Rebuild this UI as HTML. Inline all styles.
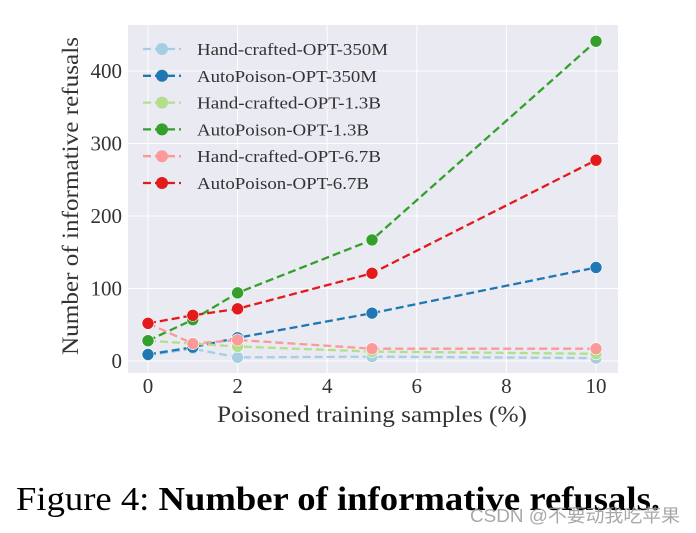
<!DOCTYPE html>
<html><head><meta charset="utf-8"><style>
body{margin:0;background:#fff;width:696px;height:533px;overflow:hidden;position:relative}
svg{position:absolute;left:0;top:0}
.serif{font-family:"Liberation Serif",serif}
</style></head><body>
<svg id="chart" width="696" height="533">
<rect x="128" y="25" width="490" height="348" fill="#eaeaf2"/>
<g id="grid"></g><g id="series"></g><g id="ticks"></g>
<text x="217" y="422" textLength="310" lengthAdjust="spacingAndGlyphs" class="serif" font-size="23" fill="#333">Poisoned training samples (%)</text>
<text transform="translate(78,196) rotate(-90)" text-anchor="middle" textLength="318" lengthAdjust="spacingAndGlyphs" class="serif" font-size="23" fill="#333">Number of informative refusals</text>
<g id="legend"></g>
<text x="16" y="510" textLength="644" lengthAdjust="spacingAndGlyphs" class="serif" font-size="34" fill="#000">Figure 4: <tspan font-weight="bold">Number of informative refusals.</tspan></text>
<text x="470" y="522" textLength="210" lengthAdjust="spacingAndGlyphs" font-family="'Liberation Sans','Noto Sans CJK SC',sans-serif" font-size="18" fill="#999" opacity="0.85">CSDN @不要动我吃苹果</text>
</svg>
<script>
const xs=[0,1,2,5,10];
const labels=["Hand-crafted-OPT-350M","AutoPoison-OPT-350M","Hand-crafted-OPT-1.3B","AutoPoison-OPT-1.3B","Hand-crafted-OPT-6.7B","AutoPoison-OPT-6.7B"];
const colors=["#a6cee3","#1f78b4","#b2df8a","#33a02c","#fb9a99","#e31a1c"];
const hc350=[8,17,5,6,4];
const ap350=[9,19,32,66,129];
const hc13=[28,24,20,13,10];
const ap13=[28,57,94,167,441];
const hc67=[52,24,29,17,17];
const ap67=[52,63,72,121,277];
const series=[hc350,ap350,hc13,ap13,hc67,ap67];
const xTicks=[0,2,4,6,8,10];
const yTicks=[0,100,200,300,400];
const legendWidths=[191,180,184,172,184,172];
const X=v=>148+v*44.8, Y=v=>361-v*0.725;
const NS="http://www.w3.org/2000/svg";
function mk(t,a,p){const e=document.createElementNS(NS,t);for(const k in a)e.setAttribute(k,a[k]);p.appendChild(e);return e;}
const grid=document.getElementById('grid'),tk=document.getElementById('ticks'),sg=document.getElementById('series'),lg=document.getElementById('legend');
xTicks.forEach(t=>{const l=mk('line',{x1:X(t),x2:X(t),y1:25,y2:373,stroke:'#fff','stroke-width':1},grid);


const tx=mk('text',{x:X(t),y:393,'text-anchor':'middle','font-size':21,fill:'#333',class:'serif'},tk);tx.textContent=t;

});
yTicks.forEach(t=>{const l=mk('line',{x1:128,x2:618,y1:Y(t),y2:Y(t),stroke:'#fff','stroke-width':1},grid);


const tx=mk('text',{x:122,y:Y(t)+7,'text-anchor':'end','font-size':21,fill:'#333',class:'serif'},tk);tx.textContent=t;

});
series.forEach((s,i)=>{const g=mk('g',{},sg);


mk('polyline',{points:s.map((v,j)=>X(xs[j])+','+Y(v)).join(' '),fill:'none',stroke:colors[i],'stroke-width':2.3,'stroke-dasharray':'8,4'},g);
s.forEach((v,j)=>{const c=mk('circle',{cx:X(xs[j]),cy:Y(v),r:6,fill:colors[i],stroke:'#fff','stroke-width':0.6},g);

});});
labels.forEach((lab,i)=>{const y=49+i*26.8;const g=mk('g',{},lg);


mk('line',{x1:143,x2:181,y1:y,y2:y,stroke:colors[i],'stroke-width':2.3,'stroke-dasharray':'8,4'},g);
mk('circle',{cx:162,cy:y,r:6,fill:colors[i]},g);
const t=mk('text',{x:197,y:y+6,'font-size':17,fill:'#333',class:'serif',textLength:legendWidths[i],lengthAdjust:'spacingAndGlyphs'},g);t.textContent=lab;});
</script>
</body></html>
